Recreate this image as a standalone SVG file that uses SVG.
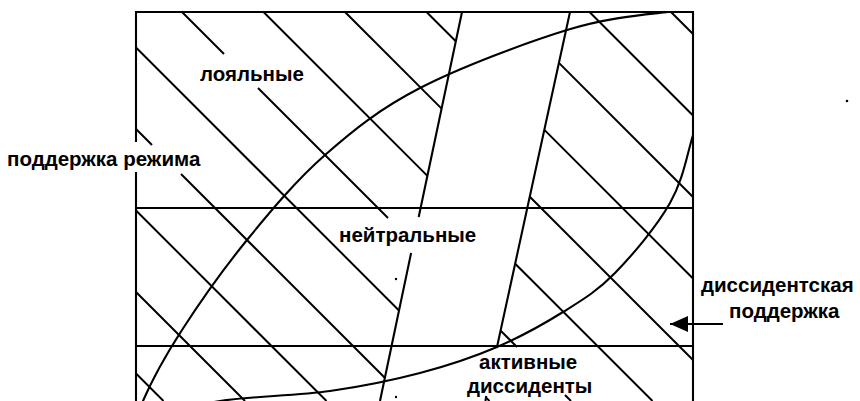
<svg xmlns="http://www.w3.org/2000/svg" width="860" height="401" viewBox="0 0 860 401">
<defs>
<style>
.ln{stroke:#000;stroke-width:2.1;fill:none}
.h{stroke:#000;stroke-width:2;fill:none}
.t{font-family:"Liberation Sans",Arial,sans-serif;font-size:20.5px;font-weight:bold;fill:#000}
</style>
<clipPath id="box"><rect x="136" y="12" width="557" height="400"/></clipPath>
<marker id="arr" markerUnits="userSpaceOnUse" markerWidth="20" markerHeight="18" refX="19" refY="8" orient="auto">
<path d="M1,0 L19,8 L1,16 Z" fill="#000"/>
</marker>
</defs>
<rect width="860" height="401" fill="#fff"/>
<g id="frame">
<path class="ln" d="M136,142 V12 H693 V401 M136,172 V401"/>
<path class="ln" d="M136,208 H693 M136,346 H693"/>
</g>
<g id="dividers">
<path class="ln" d="M462,12 L418.7,217 M411.1,253 L380,401"/>
<path class="ln" d="M570,12 L497,347 M486.3,396 L485.4,401"/>
</g>
<g id="hatching">
<path class="h" d="M136,373.5 L163.5,401
M136,292 L245,401
M136,210.5 L326.5,401
M136,129 L152,145 M181,174 L384.8,377.8
M136,47.5 L399,310.5 M486.1,397.6 L489.5,401
M182,12 L224,54 M258,88 L388,218 M500.7,330.7 L517,347 M565,395 L571,401
M263.5,12 L427.4,175.9 M515.2,263.7 L652.5,401
M345,12 L441.6,108.6 M529.8,196.8 L693,360
M426.5,12 L455.8,41.3 M544.4,129.9 L693,278.5
M558.9,62.9 L693,197
M589.5,12 L693,115.5
M671,12 L693,34"/>
</g>
<g id="ellipse" clip-path="url(#box)">
<path class="ln" d="M138,432 C135.2,429.2 135.7,418 143,401 C150.3,384 164.7,356.8 182,330 C199.3,303.2 223.2,269.2 247,240 C270.8,210.8 296.2,180.3 325,155 C353.8,129.7 379.7,108.8 420,88 C460.3,67.2 525.7,42.7 567,30 C608.3,17.3 644.8,14.7 668,12 C691.2,9.3 698.7,6 706,14 C713.3,22 714.2,39.8 712,60 C709.8,80.2 700,111.2 693,135 C686,158.8 683,180 670,203 C657,226 632.8,254.8 615,273 C597.2,291.2 582.7,299.7 563,312 C543.3,324.3 520.8,336.8 497,347 C473.2,357.2 447.8,365.7 420,373 C392.2,380.3 363.3,386.3 330,391 C296.7,395.7 248.3,396.5 220,401 C191.7,405.5 173.7,412.8 160,418 C146.3,423.2 140.8,434.8 138,432 Z"/>
</g>
<g id="connectors">
<path class="ln" d="M723,324 H670" marker-end="url(#arr)"/>
</g>
<g id="label-loyal"><text class="t" x="200" y="81">лояльные</text></g>
<g id="label-regime"><text class="t" x="7" y="166">поддержка режима</text></g>
<g id="label-neutral"><text class="t" x="339" y="242">нейтральные</text></g>
<g id="label-active"><text class="t" x="479" y="369">активные</text><text class="t" x="467" y="393">диссиденты</text></g>
<g id="label-dissident"><text class="t" x="701" y="292">диссидентская</text><text class="t" x="729" y="318">поддержка</text></g>
<g id="specks">
<circle cx="847" cy="101" r="1.3"/>
<circle cx="396" cy="279" r="1.2"/>
<circle cx="396" cy="397" r="1.2"/>
</g>
</svg>
